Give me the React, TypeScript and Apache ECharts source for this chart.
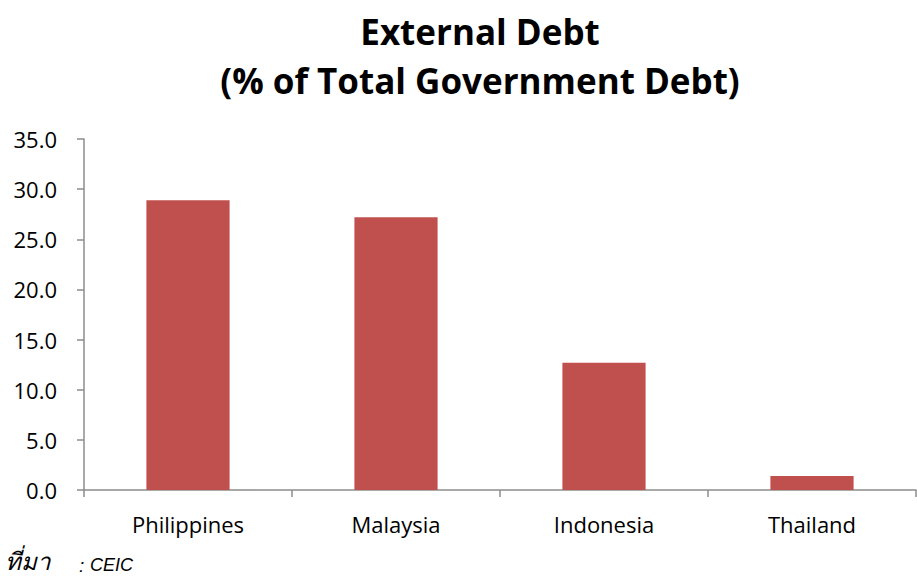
import React, { useEffect, useRef } from "react";
import * as echarts from "echarts";

const categories = ["Philippines", "Malaysia", "Indonesia", "Thailand"];
const values = [28.9, 27.2, 12.7, 1.4];
const titleLines = ["External Debt", "(% of Total Government Debt)"];
const sourceLabel = "ที่มา";
const sourceName = "CEIC";

export default function App() {
  const ref = useRef<HTMLDivElement>(null);
  useEffect(() => {
    const chart = echarts.init(ref.current!, null, { renderer: "svg" });
    chart.setOption({
      animation: false,
      backgroundColor: "#ffffff",
      title: {
        text: titleLines.join("\n"),
        left: 475,
        textAlign: "center",
        top: 2,
        textStyle: {
          fontFamily: "Open Sans",
          fontWeight: "bold",
          fontSize: 35,
          lineHeight: 49,
          color: "#000",
        },
      },
      grid: { left: 84, right: 1, top: 139, bottom: 87 },
      xAxis: {
        type: "category",
        data: categories,
        axisLine: { lineStyle: { color: "#8c8c8c", width: 1.5 } },
        axisTick: { show: true, length: 7, lineStyle: { color: "#8c8c8c", width: 1.5 } },
        axisLabel: { fontFamily: "Open Sans", fontSize: 22, color: "#000", margin: 23 },
      },
      yAxis: {
        type: "value",
        min: 0,
        max: 35,
        interval: 5,
        splitLine: { show: false },
        axisLine: { show: true, lineStyle: { color: "#8c8c8c", width: 1.5 } },
        axisTick: { show: true, length: 7, lineStyle: { color: "#8c8c8c", width: 1.5 } },
        axisLabel: {
          fontFamily: "Open Sans",
          fontSize: 22,
          color: "#000",
          margin: 27,
          formatter: (v: number) => v.toFixed(1),
        },
      },
      series: [
        {
          type: "bar",
          data: values,
          barWidth: "40%",
          itemStyle: { color: "#c0504d" },
        },
      ],
      graphic: [
        {
          type: "text",
          left: 5,
          top: 548,
          style: {
            text: sourceLabel,
            fontFamily: "Noto Sans",
            fontStyle: "italic",
            fontSize: 24,
            fill: "#000",
          },
        },
        {
          type: "text",
          left: 79,
          top: 556,
          style: {
            text: ":",
            fontFamily: "Liberation Sans",
            fontStyle: "italic",
            fontSize: 19,
            fill: "#000",
          },
        },
        {
          type: "text",
          left: 90,
          top: 556,
          style: {
            text: sourceName,
            fontFamily: "Liberation Sans",
            fontStyle: "italic",
            fontSize: 18,
            fill: "#000",
          },
        },
      ],
    });
    return () => chart.dispose();
  }, []);
  return (
    <div
      ref={ref}
      style={{ position: "fixed", left: 0, top: 0, width: 917, height: 577 }}
    />
  );
}
